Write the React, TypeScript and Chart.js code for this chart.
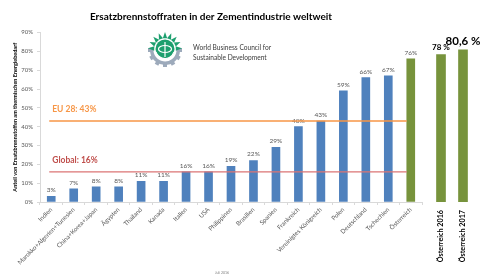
import React, { useEffect, useRef } from 'react';
import { Chart, registerables } from 'chart.js';
Chart.register(...registerables);

const FONT = 'Lato, "Open Sans", sans-serif';

const categories = [
  'Indien', 'Marokko+Algerien+Tunesien', 'China+Korea+Japan', 'Ägypten', 'Thailand', 'Kanada',
  'Italien', 'USA', 'Philippinen', 'Brasilien', 'Spanien', 'Frankreich', 'Vereinigtes Königreich',
  'Polen', 'Deutschland', 'Tschechien', 'Österreich',
];
const rates = [3, 7, 8, 8, 11, 11, 16, 16, 19, 22, 29, 40, 43, 59, 66, 67, 76];
const rateLabels = rates.map((v) => v + '%');

const austriaYears = ['Österreich 2016', 'Österreich 2017'];
const austriaRates = [78, 80.6];
const austriaLabels = ['78 %', '80,6 %'];

const referenceLabels = ['EU 28: 43%', 'Global: 16%'];
const referenceValues = [43, 16];

const yMin = 0;
const yMax = 90;
const yStep = 10;

const chartTitle = 'Ersatzbrennstoffraten in der Zementindustrie weltweit';
const yTitle = 'Anteil von Ersatzbrennstoffen am thermischen Energiebedarf';
const logoLines = ['World Business Council for', 'Sustainable Development'];
const footNote = 'Juli 2016';

const BLUE = '#4F81BD';
const GREEN = '#77933C';

const valueLabels = {
  id: 'valueLabels',
  afterDatasetsDraw(chart: any, _args: any, opts: any) {
    const { ctx } = chart;
    const meta = chart.getDatasetMeta(0);
    ctx.save();
    ctx.textAlign = 'center';
    ctx.textBaseline = 'bottom';
    meta.data.forEach((bar: any, i: number) => {
      ctx.font = Array.isArray(opts.fonts) ? opts.fonts[i] : opts.fonts;
      ctx.fillStyle = opts.color;
      ctx.fillText(opts.texts[i], bar.x, bar.y - opts.offset);
    });
    ctx.restore();
  },
};

const referenceLines = {
  id: 'referenceLines',
  afterDatasetsDraw(chart: any, _args: any, opts: any) {
    const { ctx } = chart;
    const xs = chart.scales.x;
    const ys = chart.scales.y;
    const x0 = xs.getPixelForValue(0) - 2;
    const x1 = xs.getPixelForValue(categories.length - 1) - 4;
    ctx.save();
    referenceValues.forEach((v, i) => {
      const y = ys.getPixelForValue(v);
      ctx.strokeStyle = opts.lineColors[i];
      ctx.lineWidth = 1.3;
      ctx.beginPath();
      ctx.moveTo(x0, y);
      ctx.lineTo(x1, y);
      ctx.stroke();
      ctx.fillStyle = opts.textColors[i];
      ctx.font = `bold 8.5px ${FONT}`;
      ctx.textAlign = 'left';
      ctx.textBaseline = 'middle';
      ctx.fillText(referenceLabels[i], x0 + 3, y - 11.5);
    });
    ctx.restore();
  },
};

const logo = {
  id: 'logo',
  afterDraw(chart: any) {
    const { ctx } = chart;
    const cx = 165;
    const cy = 50;
    ctx.save();
    // gear ring (lower half)
    ctx.fillStyle = '#9daabb';
    ctx.beginPath();
    ctx.arc(cx, cy, 15, -0.15, Math.PI + 0.15, false);
    ctx.arc(cx, cy, 11.5, Math.PI + 0.15, -0.15, true);
    ctx.closePath();
    ctx.fill();
    for (let k = 0; k <= 6; k++) {
      const a = (k / 6) * Math.PI;
      ctx.save();
      ctx.translate(cx + Math.cos(a) * 15.5, cy + Math.sin(a) * 15.5);
      ctx.rotate(a);
      ctx.fillRect(-1.5, -2, 3, 4);
      ctx.restore();
    }
    // green rays
    ctx.fillStyle = '#1c9f6e';
    for (let k = 0; k < 9; k++) {
      const a = Math.PI + 0.05 + (k / 8) * (Math.PI - 0.1);
      ctx.beginPath();
      ctx.moveTo(cx + Math.cos(a - 0.2) * 11, cy - 1 + Math.sin(a - 0.2) * 11);
      ctx.lineTo(cx + Math.cos(a) * 17, cy - 1 + Math.sin(a) * 17);
      ctx.lineTo(cx + Math.cos(a + 0.2) * 11, cy - 1 + Math.sin(a + 0.2) * 11);
      ctx.closePath();
      ctx.fill();
    }
    // globe
    ctx.beginPath();
    ctx.arc(cx, cy - 1, 9.5, 0, Math.PI * 2);
    ctx.fill();
    ctx.strokeStyle = '#ffffff';
    ctx.lineWidth = 1.2;
    ctx.beginPath();
    ctx.ellipse(cx, cy - 1, 6.5, 3.5, 0, 0, Math.PI * 2);
    ctx.stroke();
    ctx.beginPath();
    ctx.moveTo(cx, cy - 8);
    ctx.lineTo(cx, cy + 7);
    ctx.stroke();
    ctx.beginPath();
    ctx.arc(cx, cy - 1, 9.5, Math.PI * 0.1, Math.PI * 0.9);
    ctx.stroke();
    // text
    ctx.fillStyle = '#3a3a3a';
    ctx.font = `6.6px ${FONT}`;
    ctx.textAlign = 'left';
    ctx.textBaseline = 'middle';
    ctx.fillText(logoLines[0], 193, 48);
    ctx.fillText(logoLines[1], 193, 57.5);
    // foot note
    ctx.fillStyle = '#7f7f7f';
    ctx.font = `3.5px ${FONT}`;
    ctx.textAlign = 'center';
    ctx.fillText(footNote, 222, 273);
    ctx.restore();
  },
};

export default function App() {
  const mainRef = useRef<HTMLCanvasElement>(null);
  const sideRef = useRef<HTMLCanvasElement>(null);

  useEffect(() => {
    const main = new Chart(mainRef.current as HTMLCanvasElement, {
      type: 'bar',
      data: {
        labels: categories,
        datasets: [
          {
            data: rates,
            backgroundColor: categories.map((_, i) => (i === categories.length - 1 ? GREEN : BLUE)),
            barThickness: 8,
          },
        ],
      },
      options: {
        animation: false,
        responsive: false,
        devicePixelRatio: 1,
        layout: { padding: { top: 0, right: 60, left: 0, bottom: 0 } },
        plugins: {
          legend: { display: false },
          tooltip: { enabled: false },
          title: {
            display: true,
            text: chartTitle,
            color: '#000',
            font: { family: FONT, size: 10, weight: 'bold' },
            padding: { top: 11, bottom: 9.5 },
          },
          valueLabels: { texts: rateLabels, fonts: `6.5px ${FONT}`, color: '#595959', offset: 3 },
          referenceLines: {
            lineColors: ['#F79646', '#DB7474'],
            textColors: ['#F79646', '#C0504D'],
          },
        } as any,
        scales: {
          x: {
            grid: { drawOnChartArea: false, drawTicks: true, tickLength: 3, color: '#d9d9d9' },
            border: { color: '#d9d9d9' },
            ticks: {
              autoSkip: false,
              minRotation: 45,
              maxRotation: 45,
              padding: 1,
              color: '#595959',
              font: { family: FONT, size: 6.2 },
            },
            afterFit: (s: any) => {
              s.height = 74;
            },
          },
          y: {
            min: yMin,
            max: yMax,
            grid: { drawOnChartArea: false, drawTicks: true, tickLength: 3, color: '#d9d9d9' },
            border: { color: '#d9d9d9' },
            ticks: {
              stepSize: yStep,
              padding: 4,
              color: '#595959',
              font: { family: FONT, size: 6 },
              callback: (v: any) => v + '%',
            },
            title: {
              display: true,
              text: yTitle,
              color: '#000',
              font: { family: FONT, size: 5.5, weight: 'bold' },
              padding: { top: 12, bottom: 0 },
            },
            afterFit: (s: any) => {
              s.width = 40;
            },
          },
        },
      },
      plugins: [valueLabels, referenceLines, logo],
    } as any);

    const side = new Chart(sideRef.current as HTMLCanvasElement, {
      type: 'bar',
      data: {
        labels: austriaYears,
        datasets: [{ data: austriaRates, backgroundColor: GREEN, barThickness: 9 }],
      },
      options: {
        animation: false,
        responsive: false,
        devicePixelRatio: 1,
        layout: { padding: { top: 32, right: 8, left: 0, bottom: 0 } },
        plugins: {
          legend: { display: false },
          tooltip: { enabled: false },
          valueLabels: {
            texts: austriaLabels,
            fonts: [`bold 8px ${FONT}`, `bold 11.5px ${FONT}`],
            color: '#000',
            offset: 3,
          },
        } as any,
        scales: {
          x: {
            grid: { display: false, drawTicks: false },
            border: { display: false },
            ticks: {
              autoSkip: false,
              minRotation: 90,
              maxRotation: 90,
              padding: 8,
              color: '#000',
              font: { family: FONT, size: 7.2, weight: 'bold' },
            },
            afterFit: (s: any) => {
              s.height = 74;
            },
          },
          y: { display: false, min: yMin, max: yMax },
        },
      },
      plugins: [valueLabels],
    } as any);

    return () => {
      main.destroy();
      side.destroy();
    };
  }, []);

  return (
    <div style={{ position: 'fixed', left: 0, top: 0, width: 482, height: 276, background: '#fff' }}>
      <canvas ref={mainRef} width={482} height={276} style={{ position: 'absolute', left: 0, top: 0 }} />
      <canvas ref={sideRef} width={52} height={276} style={{ position: 'absolute', left: 430, top: 0 }} />
    </div>
  );
}
